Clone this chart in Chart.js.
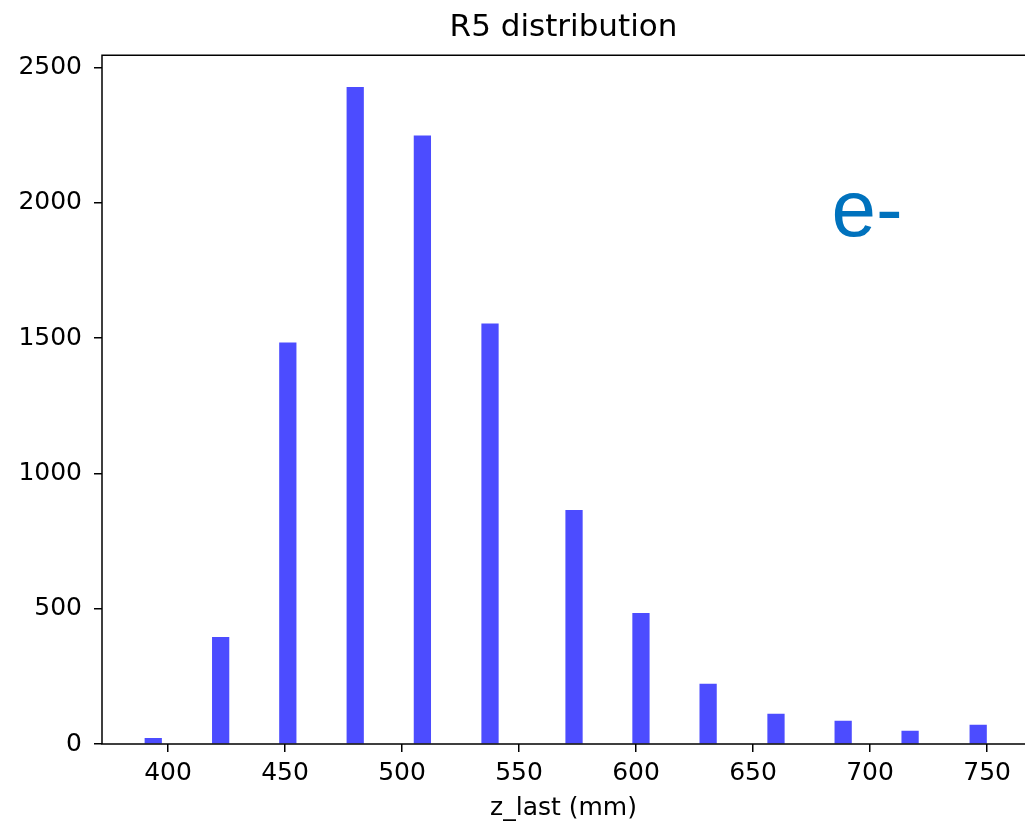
<!DOCTYPE html>
<html>
<head>
<meta charset="utf-8">
<title>R5 distribution</title>
<script src="https://cdn.jsdelivr.net/npm/chart.js@4/dist/chart.umd.min.js"></script>
<style>
  html, body { margin: 0; padding: 0; background: #fff; overflow: hidden; }
  #wrap { position: relative; width: 1025px; height: 827px; }
</style>
</head>
<body>
<div id="wrap"><canvas id="histChart"></canvas></div>
<script>
// ── Data ──────────────────────────────────────────────────
const binCenters  = [393.7, 422.5, 451.2, 480.0, 508.7, 537.6, 573.5, 602.1, 630.8, 659.8, 688.5, 717.1, 746.2];
const counts      = [21, 394, 1482, 2426, 2247, 1552, 863, 483, 221, 111, 85, 48, 70];
const xTickValues = [400, 450, 500, 550, 600, 650, 700, 750];
const yTickValues = [0, 500, 1000, 1500, 2000, 2500];

const titleText  = "R5 distribution";
const xLabelText = "z_last (mm)";
const tagText    = "e-";

// ── Frame + annotation plugin ─────────────────────────────
const framePlugin = {
  id: "frame",
  afterDatasetsDraw(chart) {
    const { ctx, chartArea: a, scales } = chart;
    ctx.save();
    ctx.strokeStyle = "#000";
    ctx.lineWidth = 1.5;
    ctx.beginPath();
    ctx.moveTo(a.right + 5, a.top);
    ctx.lineTo(a.left, a.top);
    ctx.lineTo(a.left, a.bottom);
    ctx.lineTo(a.right + 5, a.bottom);
    ctx.stroke();

    // "e-" tag, placed in data coordinates
    ctx.fillStyle = "#0072bd";
    ctx.font = '80px "Liberation Sans", Arial, sans-serif';
    ctx.textAlign = "left";
    ctx.textBaseline = "alphabetic";
    ctx.fillText(tagText, scales.x.getPixelForValue(683.5), scales.y.getPixelForValue(1877));
    ctx.restore();
  }
};

const tickFont = { family: "'DejaVu Sans', sans-serif", size: 25 };
const plainLabel = (v) => String(v);

new Chart(document.getElementById("histChart"), {
  type: "bar",
  data: {
    datasets: [{
      data: binCenters.map((x, i) => ({ x: x, y: counts[i] })),
      backgroundColor: "rgba(0, 0, 255, 0.7)",
      borderWidth: 0,
      barThickness: 16.6,
      grouped: false
    }]
  },
  options: {
    responsive: true,
    maintainAspectRatio: false,
    animation: false,
    layout: { padding: 0 },
    plugins: {
      legend:  { display: false },
      tooltip: { enabled: false },
      title: {
        display: true,
        text: titleText,
        fullSize: false,
        color: "#000",
        font: { family: "'DejaVu Sans', sans-serif", size: 31, weight: "normal" },
        padding: { top: 9, bottom: 9 }
      }
    },
    scales: {
      x: {
        type: "linear",
        offset: false,
        min: 371.8,
        max: 766.2,
        afterFit: (s) => { s.height = 83; },
        afterBuildTicks: (s) => { s.ticks = xTickValues.map(v => ({ value: v })); },
        border: { display: false },
        grid: { offset: false, drawOnChartArea: false, drawTicks: true, tickLength: 8, color: "#000", lineWidth: 1.5 },
        ticks: { color: "#000", font: tickFont, padding: 6, maxRotation: 0, autoSkip: false, callback: plainLabel },
        title: {
          display: true,
          text: xLabelText,
          color: "#000",
          font: tickFont,
          padding: { top: 0, bottom: 4 }
        }
      },
      y: {
        min: 0,
        max: 2545,
        afterFit: (s) => { s.width = 102; },
        afterBuildTicks: (s) => { s.ticks = yTickValues.map(v => ({ value: v })); },
        border: { display: false },
        grid: { offset: false, drawOnChartArea: false, drawTicks: true, tickLength: 8, color: "#000", lineWidth: 1.5 },
        ticks: { color: "#000", font: tickFont, padding: 12, callback: plainLabel }
      }
    }
  },
  plugins: [framePlugin]
});
</script>
</body>
</html>
